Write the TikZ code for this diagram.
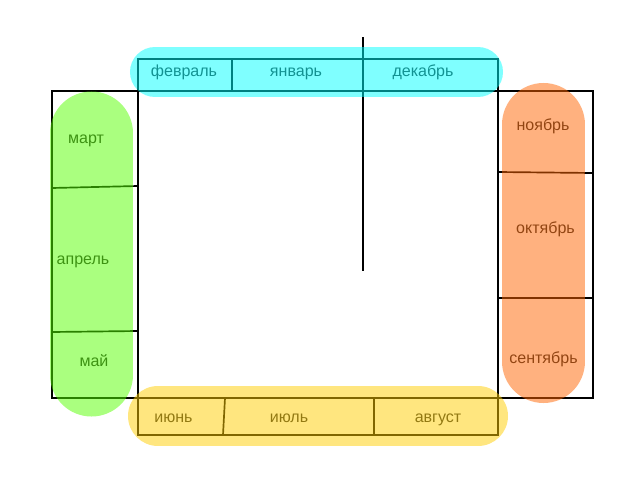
\documentclass[tikz,border=0pt]{standalone}
\usepackage{fontspec}
\setmainfont{Liberation Sans}
\definecolor{hlcyan}{RGB}{0,255,255}
\definecolor{hlgreen}{RGB}{85,255,0}
\definecolor{hlorange}{RGB}{255,100,0}
\definecolor{hlyellow}{RGB}{255,205,0}
\begin{document}
\begin{tikzpicture}[x=0.025cm,y=-0.025cm,line width=1.2pt,
        month/.style={font=\fontsize{11.4}{13}\selectfont,text=black!85,
            text height=0.75em,text depth=0.25em,inner sep=0pt},
        marker/.style={draw=#1,line width=2.075cm,line cap=round,opacity=0.5}]
        \useasboundingbox (0,0) rectangle (640,480);
        % frame and strips
        \draw (52,91) rectangle (593,398);
        \draw (138,59) rectangle (498,435);
        \draw (232,59) -- (232,91);
        \draw (363,37) -- (363,271);
        \draw (225,398) -- (223,435);
        \draw (374,398) -- (374,435);
        \draw (52,188) -- (138,186);
        \draw (52,332) -- (138,331);
        \draw (498,172) -- (593,173);
        \draw (498,298) -- (593,298);
        % months
        \node[month] (feb) at (184,72.5) {февраль};
        \node[month] (jan) at (296,72.5) {январь};
        \node[month] (dec) at (423,72.5) {декабрь};
        \node[month] (mar) at (86,140) {март};
        \node[month] (apr) at (83,260.5) {апрель};
        \node[month] (may) at (94,362.5) {май};
        \node[month] (nov) at (543,126.5) {ноябрь};
        \node[month] (oct) at (545.5,230) {октябрь};
        \node[month] (sep) at (543.5,360) {сентябрь};
        \node[month] (jun) at (173.5,418.5) {июнь};
        \node[month] (jul) at (289,418.5) {июль};
        \node[month] (aug) at (438,418.5) {август};
        % highlighter strokes
        \draw[marker=hlcyan,line width=1.25cm] (155,72) -- (478,72);
        \draw[marker=hlgreen] (91.5,133) -- (91.5,375);
        \draw[marker=hlorange] (543.5,124.5) -- (543.5,361.5);
        \draw[marker=hlyellow,line width=1.5cm] (158,416) -- (478,416);
\end{tikzpicture}
\end{document}
